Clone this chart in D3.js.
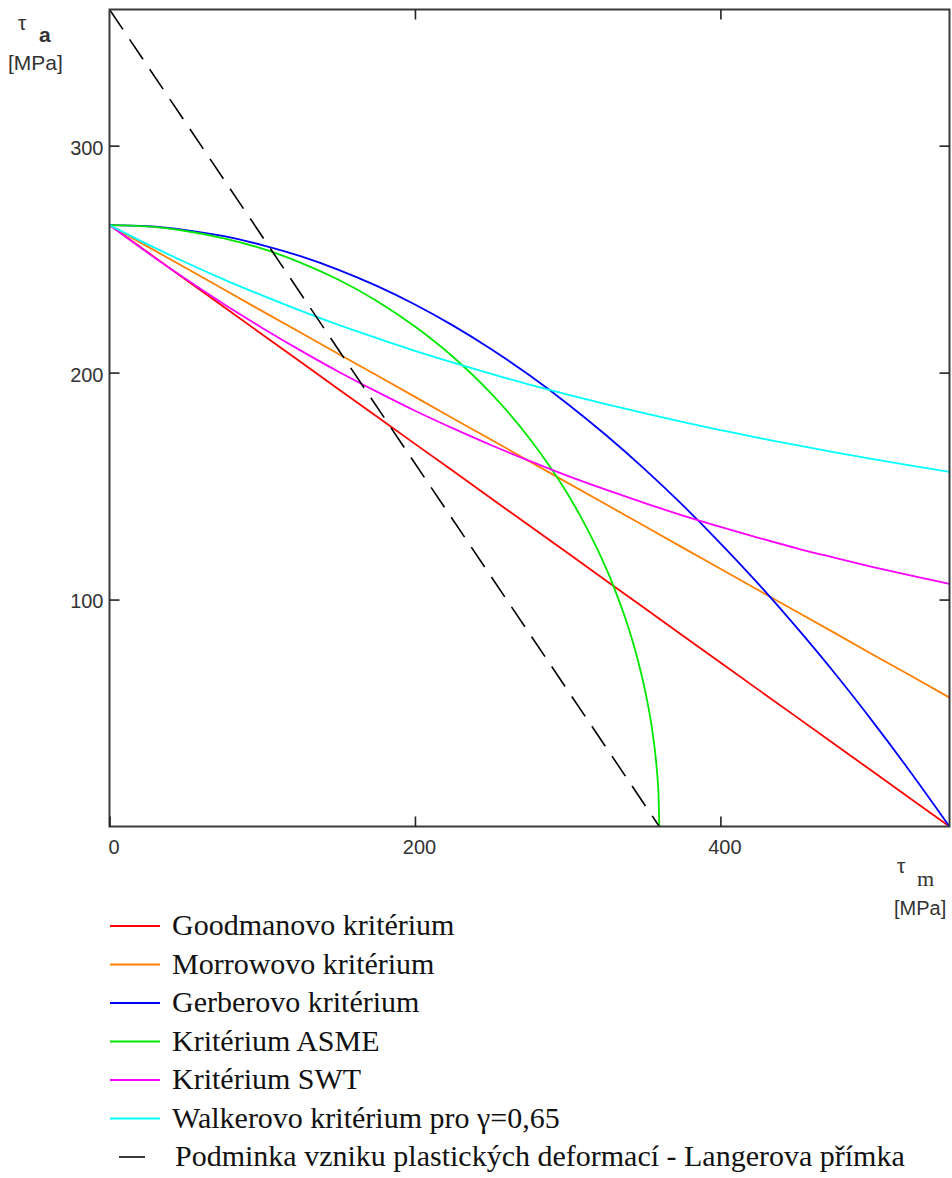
<!DOCTYPE html>
<html>
<head>
<meta charset="utf-8">
<script src="https://cdn.jsdelivr.net/npm/d3@7"></script>
<style>
  body { margin: 0; background: #fff; }
  svg { display: block; }
</style>
</head>
<body>
<svg id="chart" width="952" height="1178"></svg>
<script>
// Mean shear stress grid [MPa] shared by the curved criteria
const tauM = [0, 25, 50, 75, 100, 125, 150, 175, 200, 225, 250, 275, 300,
              325, 350, 375, 400, 425, 450, 475, 500, 525, 550];

// Stress amplitude [MPa] for each criterion on the tauM grid
const goodman = [265, 253.0, 240.9, 228.9, 216.8, 204.8, 192.7, 180.7, 168.6, 156.6, 144.5, 132.5, 120.5,
                 108.4, 96.4, 84.3, 72.3, 60.2, 48.2, 36.1, 24.1, 12.0, 0];
const morrow  = [265, 255.5, 246.1, 236.6, 227.1, 217.7, 208.2, 198.8, 189.3, 179.8, 170.4, 160.9, 151.4,
                 142.0, 132.5, 123.0, 113.6, 104.1, 94.6, 85.2, 75.7, 66.3, 56.8];
const gerber  = [265, 264.5, 262.8, 260.1, 256.2, 251.3, 245.3, 238.2, 230.0, 220.7, 210.3, 198.8, 186.2,
                 172.5, 157.7, 141.8, 124.8, 106.8, 87.6, 67.4, 46.0, 23.5, 0];
const swt     = [265, 252.8, 241.2, 230.1, 219.7, 209.8, 200.4, 191.6, 183.2, 175.4, 168.0, 161.1, 154.5,
                 148.4, 142.6, 137.1, 132.0, 127.2, 122.6, 118.4, 114.3, 110.5, 106.9];
const walker  = [265, 256.5, 248.5, 241.0, 234.0, 227.3, 221.0, 215.2, 209.6, 204.4, 199.4, 194.7, 190.3,
                 186.1, 182.1, 178.3, 174.7, 171.2, 168.0, 164.9, 161.9, 159.0, 156.3];

// ASME ellipse, sampled more densely where it drops to the axis
const tauMAsme = [0, 25, 50, 75, 100, 125, 150, 175, 200, 225, 250, 275, 300,
                  310, 320, 330, 340, 345, 350, 355, 358, 359, 359.5, 360];
const asme     = [265, 264.4, 262.4, 259.2, 254.6, 248.5, 240.9, 231.6, 220.3, 206.9, 190.7, 171.0, 146.5,
                  134.7, 121.4, 105.9, 87.1, 75.7, 62.0, 44.0, 27.9, 19.7, 14.0, 0];

// Langer line (onset of plastic deformation)
const tauMLanger = [0, 360];
const langer     = [360, 0];

// Axis ticks
const xTicks = [0, 200, 400];
const yTicks = [100, 200, 300];

const legendLabels = [
  "Goodmanovo kritérium",
  "Morrowovo kritérium",
  "Gerberovo kritérium",
  "Kritérium ASME",
  "Kritérium SWT",
  "Walkerovo kritérium pro \u03B3=0,65",
  "Podminka vzniku plastických deformací - Langerova přímka"
];

const series = [
  { xs: tauM,       ys: goodman, color: "#ff0000", curve: d3.curveLinear },
  { xs: tauM,       ys: morrow,  color: "#ff8000", curve: d3.curveLinear },
  { xs: tauM,       ys: gerber,  color: "#0000ff", curve: d3.curveMonotoneX },
  { xs: tauMAsme,   ys: asme,    color: "#00e800", curve: d3.curveMonotoneX },
  { xs: tauM,       ys: swt,     color: "#ff00ff", curve: d3.curveMonotoneX },
  { xs: tauM,       ys: walker,  color: "#00ffff", curve: d3.curveMonotoneX },
  { xs: tauMLanger, ys: langer,  color: "#000000", curve: d3.curveLinear, dash: "24,12" }
];

const svg = d3.select("#chart");

const x = d3.scaleLinear().domain([0, 550]).range([109.5, 949.5]);
const y = d3.scaleLinear().domain([0, 360]).range([826.5, 9.5]);

const [x0, x1] = x.range();
const [y0, y1] = y.range();

svg.append("defs").append("clipPath").attr("id", "plotClip")
  .append("rect").attr("x", x0).attr("y", y1).attr("width", x1 - x0).attr("height", y0 - y1);

// Curves
const plot = svg.append("g").attr("clip-path", "url(#plotClip)");
series.forEach(s => {
  const pts = s.xs.map((v, i) => [v, s.ys[i]]);
  const line = d3.line().x(d => x(d[0])).y(d => y(d[1])).curve(s.curve);
  plot.append("path")
    .attr("d", line(pts))
    .attr("fill", "none")
    .attr("stroke", s.color)
    .attr("stroke-width", s.dash ? 1.6 : 1.8)
    .attr("stroke-dasharray", s.dash || null);
});

// Frame
svg.append("rect")
  .attr("x", x0).attr("y", y1).attr("width", x1 - x0).attr("height", y0 - y1)
  .attr("fill", "none").attr("stroke", "#3a3a3a").attr("stroke-width", 2);

const tickFont = "'Liberation Sans', Arial, sans-serif";

function styleAxis(g) {
  g.select(".domain").remove();
  g.selectAll(".tick line").attr("stroke", "#222").attr("stroke-width", 1.6);
  g.selectAll(".tick text").attr("fill", "#333").style("font-family", tickFont).style("font-size", "20px");
}

// Bottom axis with labels, ticks pointing inward
svg.append("g").attr("transform", `translate(0,${y0})`)
  .call(d3.axisBottom(x).tickValues(xTicks).tickSize(-10).tickPadding(13).tickFormat(d3.format("d")))
  .call(styleAxis)
  .call(g => g.selectAll(".tick text").attr("dx", 4));

// Top axis, ticks only
svg.append("g").attr("transform", `translate(0,${y1})`)
  .call(d3.axisTop(x).tickValues(xTicks.filter(v => v > 0)).tickSize(-10).tickFormat(""))
  .call(styleAxis);

// Left axis with labels
svg.append("g").attr("transform", `translate(${x0},0)`)
  .call(d3.axisLeft(y).tickValues(yTicks).tickSize(-10).tickPadding(6).tickFormat(d3.format("d")))
  .call(styleAxis)
  .call(g => g.selectAll(".tick text").attr("dy", "0.42em"));

// Right axis, ticks only
svg.append("g").attr("transform", `translate(${x1},0)`)
  .call(d3.axisRight(y).tickValues(yTicks).tickSize(-10).tickFormat(""))
  .call(styleAxis);

// Axis titles
const yTitle = svg.append("g").attr("fill", "#333").style("font-family", tickFont);
yTitle.append("text").attr("x", 18).attr("y", 30).style("font-size", "21px").text("\u03C4");
yTitle.append("text").attr("x", 39).attr("y", 42).style("font-size", "21px").style("font-weight", "bold").text("a");
yTitle.append("text").attr("x", 8).attr("y", 70).style("font-size", "21px").text("[MPa]");

const xTitle = svg.append("g").attr("fill", "#333").style("font-family", tickFont);
xTitle.append("text").attr("x", 897).attr("y", 873).style("font-size", "21px").text("\u03C4");
xTitle.append("text").attr("x", 917).attr("y", 886).style("font-family", "'Liberation Serif', serif").style("font-size", "22px").text("m");
xTitle.append("text").attr("x", 894).attr("y", 915).style("font-size", "20px").text("[MPa]");

// Legend
const legend = svg.append("g");
legendLabels.forEach((label, i) => {
  const ly = 926 + i * 38.5;
  const s = series[i];
  legend.append("line")
    .attr("x1", s.dash ? 119 : 110).attr("x2", s.dash ? 145 : 160)
    .attr("y1", ly).attr("y2", ly)
    .attr("stroke", s.color === "#000000" ? "#222" : s.color)
    .attr("stroke-width", 1.8);
  legend.append("text")
    .attr("x", s.dash ? 175 : 172).attr("y", ly + 9)
    .attr("fill", "#111")
    .style("font-family", "'Liberation Serif', 'Times New Roman', serif")
    .style("font-size", "30px")
    .text(label);
});
</script>
</body>
</html>
